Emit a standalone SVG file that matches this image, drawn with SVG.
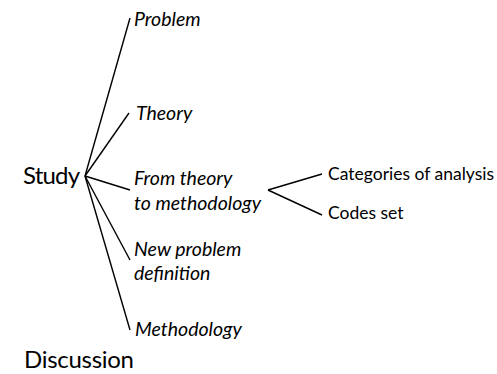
<svg xmlns="http://www.w3.org/2000/svg" width="497" height="374" viewBox="0 0 497 374">
  <style>
    .root { font-family: Lato, "Open Sans", sans-serif; font-size: 24px; fill: #000; }
    .branch { font-family: Lato, "Open Sans", sans-serif; font-size: 19.5px; font-style: italic; fill: #000; }
    .leaf { font-family: Lato, "Open Sans", sans-serif; font-size: 17.5px; fill: #000; }
    .edge { stroke: #000; stroke-width: 1.4; fill: none; }
  </style>
  <rect width="497" height="374" fill="#fff"/>

  <g id="connectors">
    <line class="edge" x1="85" y1="176" x2="130" y2="18"/>
    <line class="edge" x1="85" y1="176" x2="129" y2="113"/>
    <line class="edge" x1="85" y1="176" x2="130" y2="190"/>
    <line class="edge" x1="85" y1="176" x2="130" y2="260"/>
    <line class="edge" x1="85" y1="176" x2="130" y2="330"/>
    <line class="edge" x1="268" y1="190" x2="322" y2="174"/>
    <line class="edge" x1="268" y1="190" x2="322" y2="215"/>
  </g>

  <g id="study"><text class="root" x="23" y="184" textLength="57" lengthAdjust="spacing">Study</text></g>
  <g id="problem"><text class="branch" x="134" y="26">Problem</text></g>
  <g id="theory"><text class="branch" x="136" y="120">Theory</text></g>
  <g id="from-theory">
    <text class="branch" x="134" y="185">From theory</text>
    <text class="branch" x="134" y="210">to methodology</text>
  </g>
  <g id="new-problem">
    <text class="branch" x="134" y="256">New problem</text>
    <text class="branch" x="134" y="280">definition</text>
  </g>
  <g id="methodology"><text class="branch" x="135" y="336">Methodology</text></g>
  <g id="categories"><text class="leaf" x="328" y="180">Categories of analysis</text></g>
  <g id="codes"><text class="leaf" x="328" y="219">Codes set</text></g>
  <g id="discussion"><text class="root" x="24" y="368" textLength="110" lengthAdjust="spacing">Discussion</text></g>
</svg>
